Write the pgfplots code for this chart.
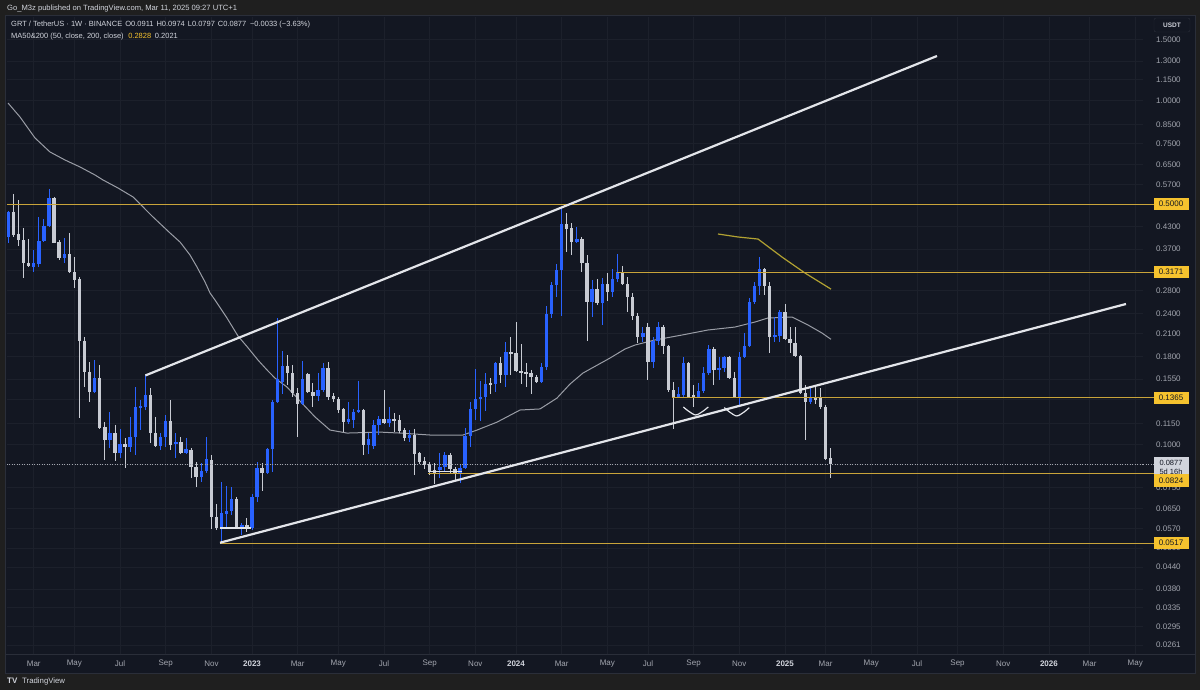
\documentclass[border=0pt]{standalone}
\usepackage{pgfplots}
\pgfplotsset{compat=1.18}
\usepackage{pgfplotstable}
\usepackage{fontspec}
\setmainfont{Liberation Sans}

\definecolor{pagebg}{HTML}{1F1F1F}
\definecolor{chartbg}{HTML}{131722}
\definecolor{gridc}{HTML}{1C202B}
\definecolor{upc}{HTML}{2962FF}
\definecolor{dnc}{HTML}{C8CBD3}
\definecolor{axtxt}{HTML}{A3A6AF}
\definecolor{yrtxt}{HTML}{D1D4DC}
\definecolor{hline}{HTML}{C9A43A}
\definecolor{hbox}{HTML}{F5C22E}
\definecolor{ma50}{HTML}{9A9DA6}
\definecolor{ma200}{HTML}{B2A232}
\definecolor{chan}{HTML}{E3E5EA}
\definecolor{panelb}{HTML}{2A2E39}
\definecolor{curbox}{HTML}{D1D4DC}

% weekly candles, w = weeks since 2023-01-02
\pgfplotstableread{
w o h l c
-48 .4017 .4760 .3850 .4749
-43 .3279 .3674 .3171 .3368
-42 .3345 .4583 .3279 .3903
-41 .3903 .4522 .3877 .4315
-40 .4315 .5528 .4286 .5205
-37 .3482 .3982 .3368 .3577
-31 .1420 .1759 .1410 .1559
-28 .1030 .1242 .0976 .1079
-26 .0944 .1109 .0912 .1003
-24 .0983 .1202 .0950 .1051
-23 .1051 .1468 .0931 .1285
-22 .1275 .1346 .1101 .1293
-21 .1285 .1591 .1259 .1392
-18 .0989 .1079 .0963 .1051
-17 .1051 .1218 .0983 .1169
-15 .1003 .1079 .0912 .1016
-13 .0944 .1044 .0938 .0970
-10 .0804 .0883 .0777 .0837
-9 .0837 .1051 .0826 .0906
-6 .0571 .0777 .0518 .0632
-5 .0628 .0757 .0571 .0641
-4 .0641 .0752 .0624 .0694
-2 .0575 .0591 .0545 .0583
0 .0571 .0718 .0564 .0703
1 .0703 .0889 .0680 .0854
3 .0826 .0976 .0823 .0970
4 .0970 .1346 .0832 .1328
5 .1328 .2331 .1319 .1549
6 .1518 .1868 .1401 .1691
10 .1310 .1747 .1302 .1549
13 .1383 .1613 .1337 .1439
14 .1439 .1724 .1420 .1668
19 .1161 .1328 .1146 .1186
20 .1177 .1268 .1116 .1242
21 .1242 .1529 .1234 .1259
23 .0996 .1079 .0938 .1037
24 .0989 .1177 .0970 .1139
25 .1139 .1210 .1065 .1186
27 .1154 .1285 .1124 .1186
31 .1044 .1101 .1016 .1065
37 .0843 .0944 .0799 .0859
38 .0859 .0950 .0832 .0931
41 .0826 .0871 .0772 .0854
42 .0854 .1116 .0848 .1058
43 .1058 .1328 .0983 .1268
44 .1268 .1657 .1177 .1355
45 .1355 .1529 .1169 .1373
46 .1373 .1613 .1251 .1498
48 .1498 .1735 .1420 .1724
50 .1591 .1985 .1468 .1856
57 .1518 .1724 .1508 .1679
58 .1679 .2526 .1646 .2394
59 .2394 .2966 .2331 .2907
60 .2907 .3345 .2683 .3214
61 .3214 .4868 .2362 .4373
64 .3877 .4286 .3851 .3955
67 .2594 .3006 .2346 .2830
69 .2577 .3046 .2224 .2926
71 .2775 .3235 .2683 .3026
72 .3026 .3577 .2966 .3171
77 .2052 .2194 .1985 .2108
79 .1736 .2052 .1668 .1999
80 .1999 .2269 .1945 .2194
84 .1373 .1468 .1364 .1401
85 .1392 .1795 .1373 .1724
88 .1373 .1508 .1364 .1429
89 .1429 .1679 .1410 .1613
90 .1613 .1945 .1591 .1894
92 .1646 .1795 .1539 .1668
93 .1668 .1807 .1624 .1795
96 .1373 .1856 .1302 .1795
97 .1795 .2108 .1783 .1932
98 .1932 .2665 .1920 .2594
99 .2594 .2966 .2560 .2888
100 .2888 .3506 .2719 .3235
103 .2052 .2346 .1985 .2080
104 .2066 .2459 .1985 .2426
110 .1328 .1468 .1310 .1373
}\upcandles

\pgfplotstableread{
w o h l c
-47 .4749 .5347 .4009 .4063
-46 .4090 .5136 .3775 .3929
-45 .3929 .4257 .3046 .3368
-44 .3368 .3955 .3279 .3301
-39 .5205 .5240 .3840 .3851
-38 .3877 .3929 .3436 .3482
-36 .3577 .4117 .3150 .3171
-35 .3171 .3506 .2849 .3006
-34 .3026 .3067 .1194 .1999
-33 .1999 .2052 .1468 .1624
-32 .1624 .1736 .1328 .1420
-30 .1559 .1702 .1109 .1116
-29 .1124 .1161 .0901 .1030
-27 .1079 .1139 .0895 .0944
-25 .1003 .1044 .0854 .0983
-20 .1392 .1458 .1009 .1079
-19 .1079 .1202 .0983 .0989
-16 .1169 .1346 .0963 .0996
-14 .1016 .1051 .0938 .0944
-12 .0963 .0976 .0799 .0859
-11 .0859 .0889 .0752 .0804
-8 .0901 .0931 .0568 .0616
-7 .0616 .0671 .0564 .0571
-3 .0694 .0703 .0571 .0575
-1 .0583 .0612 .0556 .0571
2 .0854 .0883 .0732 .0826
7 .1691 .1819 .1488 .1613
8 .1613 .1702 .1373 .1410
9 .1410 .1458 .1051 .1310
11 .1602 .1613 .1410 .1420
12 .1420 .1508 .1285 .1383
15 .1668 .1736 .1346 .1373
16 .1383 .1410 .1328 .1355
17 .1355 .1373 .1234 .1259
18 .1268 .1276 .1086 .1161
22 .1259 .1268 .0931 .0996
26 .1186 .1439 .1150 .1154
28 .1186 .1234 .1086 .1169
29 .1177 .1218 .1079 .1094
30 .1101 .1116 .1023 .1044
32 .1065 .1109 .0815 .0938
33 .0944 .0950 .0877 .0889
34 .0895 .0919 .0848 .0871
35 .0877 .0889 .0815 .0837
36 .0843 .0883 .0767 .0826
39 .0931 .0944 .0826 .0848
40 .0848 .0859 .0788 .0826
47 .1508 .1559 .1401 .1488
49 .1724 .1795 .1508 .1591
51 .1856 .2052 .1591 .1831
52 .1844 .2269 .1624 .1635
53 .1635 .1958 .1498 .1613
54 .1624 .1724 .1468 .1602
55 .1613 .1646 .1401 .1570
56 .1570 .1591 .1508 .1518
62 .4373 .4707 .3625 .4229
63 .4257 .4402 .3553 .3877
65 .3955 .4009 .3171 .3368
66 .3368 .3553 .1999 .2594
68 .2830 .3026 .2543 .2577
70 .2926 .3150 .2612 .2775
73 .3171 .3301 .2907 .2926
74 .2926 .3067 .2426 .2683
75 .2683 .2756 .2300 .2362
76 .2362 .2410 .1972 .2052
78 .2194 .2254 .1539 .1736
81 .2194 .2224 .1831 .1932
82 .1932 .1945 .1420 .1439
83 .1439 .1518 .1110 .1373
86 .1724 .1736 .1365 .1373
87 .1392 .1488 .1285 .1373
91 .1894 .1920 .1488 .1646
94 .1795 .1807 .1549 .1559
95 .1559 .1624 .1365 .1373
101 .3235 .3257 .2719 .2888
102 .2888 .2966 .1844 .2052
105 .2426 .2560 .2012 .2026
106 .2026 .2194 .1844 .1972
107 .1972 .2194 .1795 .1807
108 .1807 .1819 .1401 .1410
109 .1410 .1488 .1030 .1328
111 .1373 .1468 .1310 .1346
112 .1373 .1458 .1268 .1285
113 .1285 .1302 .0901 .0907
114 .0911 .0974 .0797 .0877
}\dncandles

\pgfplotstableread{
w v
-48.07 0.9830
-45.71 0.8952
-42.75 0.7778
-39.80 0.7082
-36.84 0.6712
-33.88 0.6405
-30.93 0.6071
-29.35 0.5871
-26.40 0.5565
-23.44 0.5240
-19.50 0.4583
-16.15 0.4117
-14.18 0.3877
-12.21 0.3553
-10.84 0.3279
-9.26 0.2966
-8.27 0.2756
-7.29 0.2629
-4.93 0.2331
-2.76 0.2066
-0.99 0.1926
1.18 0.1759
2.96 0.1646
4.53 0.1559
6.90 0.1468
9.46 0.1337
12.41 0.1202
15.37 0.1101
18.72 0.1079
25.22 0.1086
29.16 0.1079
35.07 0.1065
41.57 0.1065
44.33 0.1101
48.27 0.1161
52.80 0.1259
56.74 0.1268
60.09 0.1364
62.65 0.1498
65.21 0.1613
70.53 0.1783
73.48 0.1894
75.45 0.1945
79.39 0.2012
84.71 0.2080
89.83 0.2151
95.15 0.2194
99.09 0.2269
101.65 0.2331
106.38 0.2346
109.53 0.2224
112.29 0.2108
114.07 0.2021
}\maA

\pgfplotstableread{
w v
91.80 0.4090
95.75 0.4009
99.68 0.3955
104.41 0.3506
108.94 0.3150
114.07 0.2828
}\maB

\begin{document}
\begin{tikzpicture}[x=1pt,y=1pt]
\fill[pagebg] (0,0) rectangle (1200,690);
\fill[chartbg] (5,17) rectangle (1195,675);
\draw[panelb, line width=0.8pt] (5,17) rectangle (1195,675);
\draw[panelb, line width=0.8pt] (5,36) -- (1195,36);

\begin{axis}[
  at={(7pt,36pt)}, anchor=south west,
  width=1136pt, height=637pt, scale only axis,
  xmin=-48.27, xmax=175.53,
  ymode=log, ymin=0.02459, ymax=1.7482,
  axis line style={draw=none},
  tick style={draw=none},
  clip mode=individual,
  grid=major,
  major grid style={draw=gridc, line width=0.8pt},
  xtick={-43,-35,-26,-17,-8,0,9,17,26,35,44,52,61,70,78,87,96,105,113,122,131,139,148,157,165,174},
  xticklabels={Mar,May,Jul,Sep,Nov,\textcolor{yrtxt}{\textbf{2023}},Mar,May,Jul,Sep,Nov,\textcolor{yrtxt}{\textbf{2024}},Mar,May,Jul,Sep,Nov,\textcolor{yrtxt}{\textbf{2025}},Mar,May,Jul,Sep,Nov,\textcolor{yrtxt}{\textbf{2026}},Mar,May},
  xticklabel style={font=\fontsize{8}{9}\selectfont, text=axtxt, anchor=center, yshift=-10pt},
  ytick={0.0261,0.0295,0.0335,0.038,0.044,0.05,0.057,0.065,0.075,0.0875,0.1,0.115,0.135,0.155,0.18,0.21,0.24,0.28,0.32,0.37,0.43,0.5,0.57,0.65,0.75,0.85,1.0,1.15,1.3,1.5},
  yticklabels={0.0261,0.0295,0.0335,0.0380,0.0440,0.0500,0.0570,0.0650,0.0750,,0.1000,0.1150,,0.1550,0.1800,0.2100,0.2400,0.2800,,0.3700,0.4300,,0.5700,0.6500,0.7500,0.8500,1.0000,1.1500,1.3000,1.5000},
  yticklabel pos=right,
  yticklabel style={font=\fontsize{8}{9}\selectfont, text=axtxt, anchor=west, inner sep=0pt, xshift=13pt},
]
% moving averages
\addplot[ma50, line width=1pt, forget plot] table[x=w,y=v] {\maA};
\addplot[ma200, line width=1.2pt, forget plot] table[x=w,y=v] {\maB};

% wicks
\addplot[draw=none, mark=none, forget plot,
  error bars/.cd, y dir=minus, y explicit, error mark=none,
  error bar style={draw=upc, line width=0.9pt}]
  table[x=w, y=h, y error minus expr={\thisrow{h}-\thisrow{l}}] {\upcandles};
\addplot[draw=none, mark=none, forget plot,
  error bars/.cd, y dir=minus, y explicit, error mark=none,
  error bar style={draw=dnc, line width=0.9pt}]
  table[x=w, y=h, y error minus expr={\thisrow{h}-\thisrow{l}}] {\dncandles};
% bodies
\addplot[draw=none, mark=none, forget plot,
  error bars/.cd, y dir=minus, y explicit, error mark=none,
  error bar style={draw=upc, line width=3.4pt}]
  table[x=w, y=c, y error minus expr={\thisrow{c}-\thisrow{o}}] {\upcandles};
\addplot[draw=none, mark=none, forget plot,
  error bars/.cd, y dir=minus, y explicit, error mark=none,
  error bar style={draw=dnc, line width=3.4pt}]
  table[x=w, y=o, y error minus expr={\thisrow{o}-\thisrow{c}}] {\dncandles};

% horizontal levels
\addplot[hline, line width=0.9pt, forget plot] coordinates {(-48.27,0.5) (175.53,0.5)};
\addplot[hline, line width=0.9pt, forget plot] coordinates {(71.9,0.3171) (175.53,0.3171)};
\addplot[hline, line width=0.9pt, forget plot] coordinates {(82.7,0.1365) (175.53,0.1365)};
\addplot[hline, line width=0.9pt, forget plot] coordinates {(34.7,0.0824) (175.53,0.0824)};
\addplot[hline, line width=0.9pt, forget plot] coordinates {(-6.3,0.0517) (175.53,0.0517)};
% current price
\addplot[axtxt, line width=0.7pt, dash pattern=on 1pt off 1.5pt, forget plot] coordinates {(-48.27,0.0877) (175.53,0.0877)};

% channel
\addplot[chan, line width=2.2pt, forget plot] coordinates {(-21,0.1587) (134.95,1.3465)};
\addplot[chan, line width=2.2pt, forget plot] coordinates {(-6.3,0.0518) (172.18,0.2560)};
% short white lines
\addplot[chan, line width=1.6pt, forget plot] coordinates {(-6.3,0.0571) (-0.2,0.0571)};
\addplot[chan, line width=1.4pt, forget plot] coordinates {(34.7,0.0833) (41.3,0.0833)};
% arcs
\addplot[chan, line width=1.2pt, smooth, forget plot] coordinates {(84.97,0.1285) (87.43,0.1218) (89.89,0.1285)};
\addplot[chan, line width=1.2pt, smooth, forget plot] coordinates {(93.05,0.1279) (95.51,0.1210) (97.97,0.1279)};

\coordinate (y50) at (axis cs:0,0.5);
\coordinate (y3171) at (axis cs:0,0.3171);
\coordinate (y1365) at (axis cs:0,0.1365);
\coordinate (y0877) at (axis cs:0,0.0877);
\coordinate (y0824) at (axis cs:0,0.0824);
\coordinate (y0517) at (axis cs:0,0.0517);
\end{axis}

\coordinate (ra) at (1143,0);
\coordinate (rb) at (1154,0);
\coordinate (rc) at (1171,0);
\foreach \yy in {y50,y3171,y1365,y0824,y0517}{
  \draw[hline, line width=0.9pt] (ra |- \yy) -- (rb |- \yy);
}
\draw[axtxt, line width=0.7pt, dash pattern=on 1pt off 1.5pt] (ra |- y0877) -- (rb |- y0877);

\tikzset{pbox/.style={fill=hbox, text=chartbg, font=\fontsize{8}{9}\selectfont, inner sep=0pt, minimum width=35pt, minimum height=12.5pt, anchor=center}}
\node[pbox] at (rc |- y50) {0.5000};
\node[pbox] at (rc |- y3171) {0.3171};
\node[pbox] at (rc |- y1365) {0.1365};
\node[pbox] at (rc |- y0517) {0.0517};
\node[fill=curbox, text=chartbg, inner sep=0pt, minimum width=35pt, minimum height=20pt, anchor=north, align=center, font=\fontsize{7.5}{8.5}\selectfont] at ([yshift=7pt]rc |- y0877) {0.0877\\5d 16h};
\node[pbox, anchor=north] at ([yshift=-0.5pt]rc |- y0824) {0.0824};

% USDT box
\node[fill=chartbg, draw=panelb, rounded corners=2pt, text=yrtxt, font=\bfseries\fontsize{6.5}{8}\selectfont, minimum width=36pt, minimum height=14pt, inner sep=0pt] at (1172,665) {USDT};

% header texts
\node[anchor=west, text=yrtxt, inner sep=0pt, font=\fontsize{7.6}{9}\selectfont] at (7,681) {Go\_M3z published on TradingView.com, Mar 11, 2025 09:27 UTC+1};
\node[anchor=west, text=yrtxt, inner sep=0pt, font=\fontsize{7.5}{9}\selectfont] at (11,665) {GRT / TetherUS · 1W · BINANCE\hspace{0.4em}O0.0911\hspace{0.4em}H0.0974\hspace{0.4em}L0.0797\hspace{0.4em}C0.0877\hspace{0.5em}−0.0033 (−3.63\%)};
\node[anchor=west, text=yrtxt, inner sep=0pt, font=\fontsize{7.5}{9}\selectfont] at (11,653) {MA50\&200 (50, close, 200, close)\hspace{0.6em}\textcolor{hbox}{0.2828}\hspace{0.5em}0.2021};

% footer
\node[anchor=west, text=yrtxt, inner sep=0pt, font=\bfseries\fontsize{8}{9}\selectfont] at (7,9) {TV};
\node[anchor=west, text=yrtxt, inner sep=0pt, font=\fontsize{7.8}{9}\selectfont] at (22,9) {TradingView};
\end{tikzpicture}
\end{document}
